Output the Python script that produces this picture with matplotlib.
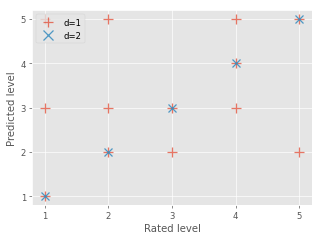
import numpy as np
import matplotlib
matplotlib.use("Agg")
import matplotlib.pyplot as plt

plt.style.use("ggplot")

# d=1 predictions
rated_d1 = [1, 1, 1, 2, 2, 2, 3, 3, 4, 4, 4, 5, 5]
pred_d1 = [1, 3, 5, 2, 3, 5, 2, 3, 3, 4, 5, 2, 5]

# d=2 predictions
rated_d2 = [1, 2, 3, 4, 5]
pred_d2 = [1, 2, 3, 4, 5]

fig, ax = plt.subplots(figsize=(5.295, 3.967), dpi=61)
ax.plot(rated_d1, pred_d1, linestyle="none", marker="+", markersize=11,
        markeredgewidth=1.5, alpha=0.75, color="#E24A33", label="d=1")
ax.plot(rated_d2, pred_d2, linestyle="none", marker="x", markersize=10,
        markeredgewidth=1.5, alpha=0.85, color="#348ABD", label="d=2")

ax.set_xlabel("Rated level")
ax.set_ylabel("Predicted level")
ax.set_xticks([1, 2, 3, 4, 5])
ax.set_yticks([1, 2, 3, 4, 5])
ax.legend(loc="upper left", markerscale=1.1)

fig.subplots_adjust(left=32 / 323, right=312 / 323, top=1 - 11 / 242, bottom=1 - 206 / 242)
plt.savefig("out.png")
